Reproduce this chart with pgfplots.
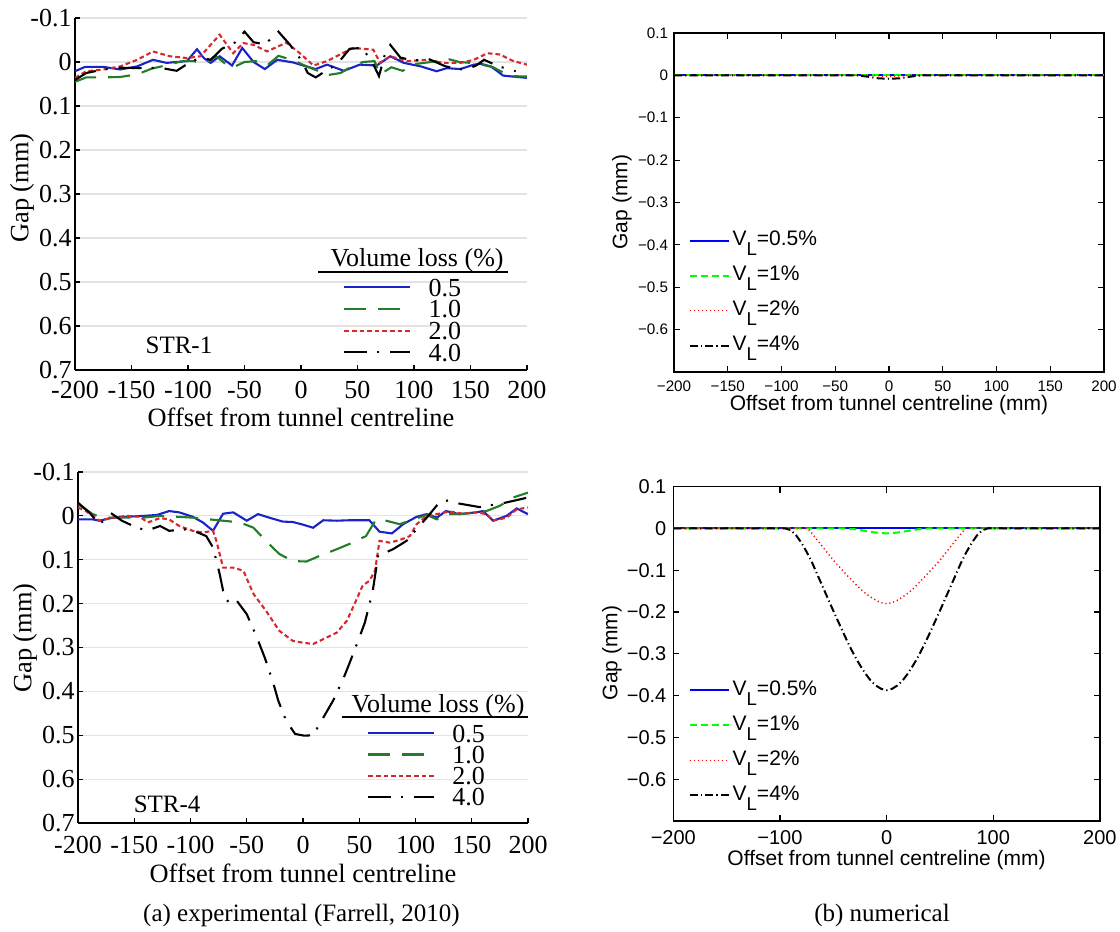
\documentclass[border=0pt]{standalone}
\usepackage{pgfplots}
\pgfplotsset{compat=1.18}
\usepackage{fontspec}
\setmainfont{Liberation Serif}
\newfontfamily\arial{Liberation Sans}

\definecolor{eblue}{RGB}{25,35,200}
\definecolor{egreen}{RGB}{35,125,40}
\definecolor{ered}{RGB}{215,40,45}
\definecolor{mblue}{RGB}{0,0,255}
\definecolor{mgreen}{RGB}{0,255,0}
\definecolor{mred}{RGB}{255,0,0}

\newcommand{\VL}{V\raisebox{-5pt}{\fontsize{9.3}{9.3}\selectfont L}}

\pgfplotsset{
  expstyle/.style={
    scale only axis, anchor=center,
    xmin=-200, xmax=200, ymin=-0.1, ymax=0.7, y dir=reverse,
    axis x line*=bottom, axis y line*=left,
    axis line style={line width=0.7pt},
    tick align=inside, major tick length=2.5pt,
    tick style={line width=0.6pt, black},
    xtick={-200,-150,-100,-50,0,50,100,150,200},
    xticklabels={-200,-150,-100,-50,0,50,100,150,200},
    ytick={-0.1,0,0.1,0.2,0.3,0.4,0.5,0.6,0.7},
    yticklabels={-0.1,0,0.1,0.2,0.3,0.4,0.5,0.6,0.7},
    ymajorgrids, major grid style={gray!22, line width=0.6pt},
    ticklabel style={font=\fontsize{13}{13}\selectfont},
    yticklabel style={inner sep=0pt, anchor=east, xshift=-1.5pt},
    label style={font=\fontsize{13.2}{13.2}\selectfont},
    legend cell align=left,
    legend image code/.code={\draw[#1] (0pt,0pt) -- (33pt,0pt);},
    every axis plot/.append style={line width=1.05pt},
  },
  numstyle/.style={
    scale only axis, anchor=center,
    xmin=-200, xmax=200, ymin=-0.7, ymax=0.1,
    axis line style={line width=0.6pt},
    tick align=inside, tick pos=both, major tick length=3pt,
    tick style={line width=0.6pt, black},
    ytick={-0.6,-0.5,-0.4,-0.3,-0.2,-0.1,0,0.1},
    yticklabels={−0.6,−0.5,−0.4,−0.3,−0.2,−0.1,0,0.1},
    label style={font=\arial\fontsize{10.5}{10.5}\selectfont},
    legend cell align=left,
    legend image code/.code={\draw[#1] (0pt,1.2pt) -- (19.5pt,1.2pt);},
    every axis plot/.append style={line width=1pt},
  },
  sb/.style={eblue, solid},
  sg/.style={egreen, dash pattern=on 11pt off 6pt},
  sr/.style={ered, dash pattern=on 2.3pt off 1.5pt},
  sk/.style={black, dash pattern=on 11.5pt off 5pt on 1pt off 5.5pt},
  nb/.style={mblue, solid},
  ng/.style={mgreen, dash pattern=on 3.5pt off 2pt},
  nr/.style={mred, dash pattern=on 0.6pt off 1.4pt, line width=0.7pt},
  nk/.style={black, dash pattern=on 4pt off 1.6pt on 0.6pt off 1.6pt},
}

\begin{document}
\begin{tikzpicture}
\path[use as bounding box] (0pt,0pt) rectangle (560pt,466pt);

% ---------------- (a) top: STR-1 ----------------
\begin{axis}[expstyle,
  at={(150.5pt,369pt)}, width=226pt, height=176pt,
  xticklabel style={anchor=base, yshift=-14.5pt, inner sep=0pt},
  xlabel={Offset from tunnel centreline},
  xlabel style={at={(axis description cs:0.5,-0.1335)}, anchor=center},
  ylabel={Gap (mm)},
  ylabel style={at={(axis description cs:-0.1173,0.517)}, anchor=center},
  legend style={at={(axis description cs:0.593,0.261)}, anchor=north west,
    draw=none, fill=none, inner sep=0pt, row sep=2.05pt, column sep=8.5pt,
    font=\fontsize{13}{13}\selectfont,
    nodes={inner sep=0pt, text height=8.8pt, text depth=0pt}},
]
\addplot[sb] coordinates {(-200,0.021)(-191,0.011)(-175,0.011)(-160,0.017)(-145,0.010)(-131,-0.005)(-119,0.002)(-101,-0.002)(-92,-0.029)(-86,-0.009)(-80,0.002)(-72,-0.013)(-61,0.008)(-52,-0.032)(-42,0.000)(-32,0.016)(-21,-0.005)(-7,0.001)(2,0.008)(13,0.016)(23,0.006)(38,0.020)(52,0.006)(67,0.008)(79,-0.013)(91,0.002)(106,0.010)(120,0.021)(129,0.014)(141,0.016)(153,0.006)(159,0.004)(168,0.010)(179,0.031)(200,0.036)};
\addlegendentry{0.5}
\addplot[sg] coordinates {(-200,0.045)(-190,0.035)(-175,0.035)(-160,0.034)(-145,0.028)(-132,0.015)(-120,0.008)(-105,-0.002)(-95,-0.002)(-85,0.003)(-75,-0.013)(-68,0.002)(-60,0.012)(-50,0.000)(-40,-0.002)(-30,0.008)(-20,-0.014)(-8,-0.005)(5,0.010)(15,0.020)(23,0.030)(35,0.025)(45,0.010)(55,0.000)(65,-0.002)(70,0.028)(80,0.012)(90,0.020)(100,0.005)(115,0.000)(130,-0.007)(140,0.000)(155,0.003)(170,0.012)(185,0.032)(200,0.033)};
\addlegendentry{1.0}
\addplot[sr] coordinates {(-200,0.036)(-190,0.021)(-175,0.017)(-160,0.010)(-145,-0.005)(-131,-0.024)(-116,-0.013)(-101,-0.009)(-89,-0.013)(-72,-0.062)(-60,-0.020)(-51,-0.043)(-42,-0.039)(-30,-0.024)(-13,-0.044)(-1,-0.020)(11,0.008)(23,-0.002)(46,-0.032)(64,-0.028)(70,0.002)(79,-0.013)(94,-0.002)(111,-0.005)(126,0.002)(141,0.002)(153,-0.005)(165,-0.020)(176,-0.017)(188,-0.002)(200,0.006)};
\addlegendentry{2.0}
\addplot[sk] coordinates {(-200,0.041)(-190,0.025)(-175,0.017)(-160,0.013)(-140,0.014)(-125,0.013)(-110,0.020)(-98,0.000)(-88,-0.010)(-80,-0.005)(-70,-0.030)(-58,-0.045)(-50,-0.069)(-42,-0.045)(-32,-0.040)(-20,-0.069)(-10,-0.040)(0,-0.005)(6,0.025)(13,0.035)(22,0.020)(32,0.005)(43,-0.030)(54,-0.032)(63,0.000)(69,0.032)(74,-0.015)(79,-0.039)(88,-0.010)(100,-0.003)(112,-0.008)(128,0.010)(145,0.018)(155,0.008)(162,-0.005)(175,0.010)(190,0.021)};
\addlegendentry{4.0}
\node[font=\fontsize{13}{13}\selectfont, anchor=base] at (axis description cs:0.757,0.293) {Volume loss (\%)};
\draw[line width=0.75pt] (axis description cs:0.538,0.278) -- (axis description cs:0.958,0.278);
\node[font=\fontsize{12.5}{12.5}\selectfont, anchor=base] at (axis description cs:0.230,0.048) {STR-1};
\end{axis}

% ---------------- (a) bottom: STR-4 ----------------
\begin{axis}[expstyle,
  at={(151.5pt,142.25pt)}, width=225pt, height=175.5pt,
  xticklabel style={anchor=base, yshift=-15.5pt, inner sep=0pt},
  xlabel={Offset from tunnel centreline},
  xlabel style={at={(axis description cs:0.5,-0.1425)}, anchor=center},
  ylabel={Gap (mm)},
  ylabel style={at={(axis description cs:-0.1178,0.527)}, anchor=center},
  legend style={at={(axis description cs:0.642,0.282)}, anchor=north west,
    draw=none, fill=none, inner sep=0pt, row sep=1.85pt, column sep=8.5pt,
    font=\fontsize{13}{13}\selectfont,
    nodes={inner sep=0pt, text height=8.8pt, text depth=0pt}},
]
\addplot[sb] coordinates {(-200,0.008)(-187,0.008)(-181,0.011)(-169,0.004)(-157,0.002)(-142,0.000)(-130,-0.002)(-119,-0.011)(-110,-0.008)(-98,0.002)(-89,0.015)(-80,0.034)(-71,-0.005)(-62,-0.008)(-50,0.011)(-40,-0.004)(-30,0.004)(-18,0.013)(-9,0.014)(0,0.020)(9,0.027)(18,0.010)(30,0.011)(41,0.010)(59,0.010)(68,0.036)(79,0.040)(89,0.019)(101,0.002)(110,-0.004)(119,0.004)(127,-0.011)(139,-0.004)(154,-0.008)(160,-0.011)(169,0.011)(181,0.000)(190,-0.017)(200,-0.004)};
\addlegendentry{0.5}
\addplot[sg] coordinates {(-200,-0.027)(-187,-0.004)(-178,0.004)(-157,0.004)(-142,0.004)(-127,0.000)(-112,0.002)(-98,0.004)(-83,0.008)(-71,0.011)(-56,0.015)(-44,0.027)(-33,0.057)(-21,0.087)(-9,0.103)(3,0.104)(15,0.091)(30,0.076)(44,0.061)(56,0.046)(65,0.008)(74,0.011)(86,0.019)(98,0.008)(110,-0.002)(119,0.008)(127,-0.004)(139,-0.004)(154,-0.008)(163,-0.011)(175,-0.023)(187,-0.042)(200,-0.053)};
\addlegendentry{1.0}
\addplot[sr] coordinates {(-200,-0.019)(-193,-0.011)(-181,0.011)(-169,0.004)(-157,0.000)(-145,0.002)(-138,0.015)(-127,0.005)(-119,0.008)(-110,0.023)(-98,0.034)(-89,0.038)(-80,0.034)(-77,0.057)(-71,0.118)(-62,0.118)(-53,0.125)(-44,0.178)(-33,0.216)(-21,0.262)(-9,0.285)(0,0.289)(9,0.292)(18,0.281)(30,0.266)(39,0.239)(47,0.194)(53,0.159)(59,0.148)(64,0.125)(68,0.057)(77,0.061)(86,0.055)(95,0.046)(101,0.019)(110,0.000)(119,-0.004)(130,-0.010)(142,-0.005)(154,-0.008)(163,-0.004)(169,0.011)(181,0.004)(190,-0.015)(200,-0.019)};
\addlegendentry{2.0}
\addplot[sk] coordinates {(-200,-0.030)(-190,-0.008)(-181,0.019)(-170,-0.005)(-161,0.011)(-151,0.023)(-139,0.034)(-127,0.023)(-119,0.034)(-101,0.030)(-86,0.046)(-80,0.072)(-74,0.133)(-71,0.171)(-67,0.194)(-61,0.186)(-50,0.224)(-41,0.277)(-34,0.323)(-27,0.376)(-22,0.421)(-15,0.467)(-7,0.497)(1,0.501)(9,0.500)(18,0.460)(27,0.420)(36,0.370)(41,0.338)(49,0.285)(55,0.243)(62,0.171)(67,0.087)(73,0.084)(80,0.076)(92,0.057)(101,0.030)(110,0.004)(121,-0.030)(130,-0.036)(139,-0.028)(157,-0.020)(166,-0.024)(178,-0.029)(190,-0.036)(200,-0.042)};
\addlegendentry{4.0}
\node[font=\fontsize{13}{13}\selectfont, anchor=base] at (axis description cs:0.800,0.316) {Volume loss (\%)};
\draw[line width=0.75pt] (axis description cs:0.587,0.302) -- (axis description cs:1.0,0.302);
\node[font=\fontsize{12.5}{12.5}\selectfont, anchor=base] at (axis description cs:0.198,0.031) {STR-4};
\end{axis}

% ---------------- (b) top ----------------
\begin{axis}[numstyle,
  at={(444.5pt,364.75pt)}, width=215pt, height=169.5pt,
  xtick={-200,-150,-100,-50,0,50,100,150,200},
  xticklabels={−200,−150,−100,−50,0,50,100,150,200},
  ticklabel style={font=\arial\fontsize{7.6}{7.6}\selectfont},
  xticklabel style={anchor=base, yshift=-9.7pt, inner sep=0pt},
  yticklabel style={anchor=east, inner sep=0pt, xshift=-2.75pt},
  xlabel={Offset from tunnel centreline (mm)},
  xlabel style={at={(axis description cs:0.5,-0.0973)}, anchor=center},
  ylabel={Gap (mm)},
  ylabel style={at={(axis description cs:-0.1209,0.501)}, anchor=center},
  legend style={at={(axis description cs:0.033,0.419)}, anchor=north west,
    draw=none, fill=none, inner sep=0pt, row sep=4.9pt, column sep=1.5pt,
    font=\arial\fontsize{10.5}{10.5}\selectfont,
    nodes={inner sep=0pt, text height=7.6pt, text depth=5pt}},
]
\addplot[nb] coordinates {(-200,0)(-100,0)(0,0)(100,0)(200,0)};
\addlegendentry{\VL=0.5\%}
\addplot[ng] coordinates {(-200,0)(-100,0)(0,0)(100,0)(200,0)};
\addlegendentry{\VL=1\%}
\addplot[nr] coordinates {(-200,0)(-15,0)(-5,-0.002)(0,-0.003)(5,-0.002)(15,0)(200,0)};
\addlegendentry{\VL=2\%}
\addplot[nk] coordinates {(-200,0)(-30,0)(-20,-0.003)(-10,-0.007)(0,-0.008)(10,-0.007)(20,-0.003)(30,0)(200,0)};
\addlegendentry{\VL=4\%}
\end{axis}

% ---------------- (b) bottom ----------------
\begin{axis}[numstyle,
  at={(443.3pt,139.1pt)}, width=213.3pt, height=167.2pt,
  xtick={-200,-100,0,100,200},
  xticklabels={−200,−100,0,100,200},
  ticklabel style={font=\arial\fontsize{10}{10}\selectfont},
  xticklabel style={anchor=base, yshift=-12pt, inner sep=0pt},
  yticklabel style={anchor=east, inner sep=0pt, xshift=-3.3pt},
  xlabel={Offset from tunnel centreline (mm)},
  xlabel style={at={(axis description cs:0.5,-0.1166)}, anchor=center},
  ylabel={Gap (mm)},
  ylabel style={at={(axis description cs:-0.1437,0.503)}, anchor=center},
  legend style={at={(axis description cs:0.035,0.422)}, anchor=north west,
    draw=none, fill=none, inner sep=0pt, row sep=4.9pt, column sep=1.5pt,
    font=\arial\fontsize{10.5}{10.5}\selectfont,
    nodes={inner sep=0pt, text height=7.6pt, text depth=5pt}},
]
\addplot[nb] coordinates {(-200,0)(-100,0)(0,0)(100,0)(200,0)};
\addlegendentry{\VL=0.5\%}
\addplot[ng] coordinates {(-200,0)(-40,0)(-30,-0.002)(-20,-0.006)(-10,-0.010)(0,-0.012)(10,-0.010)(20,-0.006)(30,-0.002)(40,0)(200,0)};
\addlegendentry{\VL=1\%}
\addplot[nr] coordinates {(-200,0)(-74,0)(-70,-0.012)(-65,-0.028)(-60,-0.044)(-55,-0.060)(-50,-0.076)(-45,-0.090)(-40,-0.104)(-35,-0.118)(-30,-0.131)(-25,-0.144)(-20,-0.155)(-15,-0.164)(-10,-0.172)(-5,-0.178)(0,-0.180)(5,-0.178)(10,-0.172)(15,-0.164)(20,-0.155)(25,-0.144)(30,-0.131)(35,-0.118)(40,-0.104)(45,-0.090)(50,-0.076)(55,-0.060)(60,-0.044)(65,-0.028)(70,-0.012)(74,0)(200,0)};
\addlegendentry{\VL=2\%}
\addplot[nk] coordinates {(-200,0)(-95,0)(-90,-0.004)(-85,-0.016)(-80,-0.034)(-75,-0.056)(-70,-0.081)(-65,-0.110)(-60,-0.139)(-55,-0.168)(-50,-0.197)(-45,-0.225)(-40,-0.253)(-35,-0.280)(-30,-0.305)(-25,-0.327)(-20,-0.347)(-15,-0.364)(-10,-0.376)(-5,-0.384)(0,-0.387)(5,-0.384)(10,-0.376)(15,-0.364)(20,-0.347)(25,-0.327)(30,-0.305)(35,-0.280)(40,-0.253)(45,-0.225)(50,-0.197)(55,-0.168)(60,-0.139)(65,-0.110)(70,-0.081)(75,-0.056)(80,-0.034)(85,-0.016)(90,-0.004)(95,0)(200,0)};
\addlegendentry{\VL=4\%}
\end{axis}

\node[font=\fontsize{12.5}{12.5}\selectfont, anchor=base] at (150.75pt,5pt) {(a) experimental (Farrell, 2010)};
\node[font=\fontsize{12.5}{12.5}\selectfont, anchor=base] at (441pt,5pt) {(b) numerical};
\end{tikzpicture}
\end{document}
